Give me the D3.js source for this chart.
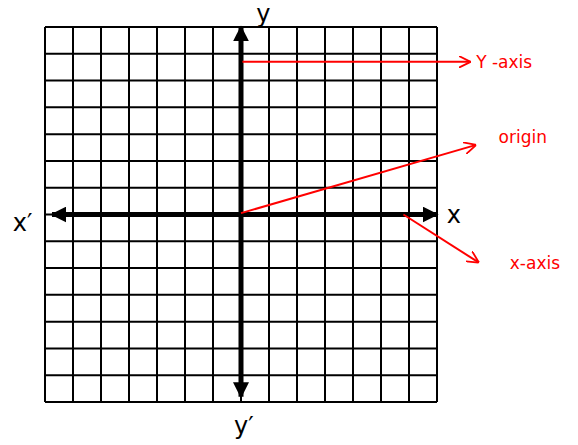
<!DOCTYPE html>
<html>
<body style="margin:0;background:#fff;">
<svg id="plane" width="578" height="445" font-family="DejaVu Sans, sans-serif"></svg>
<script src="https://d3js.org/d3.v7.min.js"></script>
<script>
// grid units, from -7 to 7 on both axes
var gridTicks = d3.range(-7, 8);
var axisLabels = [
  {text: "y", gx: 0.8, gy: 7.5},
  {text: "y\u2032", gx: 0.1, gy: -7.9},
  {text: "x\u2032", gx: -7.8, gy: -0.3},
  {text: "x", gx: 7.6, gy: 0}
];
// red callouts: from point (grid) to point (grid), label
var callouts = [
  {from: [0.05, 5.7], to: [8.2, 5.7], label: "Y -axis", lx: 8.4, ly: 5.7},
  {from: [0, 0.05], to: [8.4, 2.6], label: "origin", lx: 9.2, ly: 2.9},
  {from: [5.8, 0], to: [8.5, -1.8], label: "x-axis", lx: 9.6, ly: -1.8}
];

var svg = d3.select("#plane");
var x = d3.scaleLinear().domain([-7, 7]).range([45, 437]);
var y = d3.scaleLinear().domain([7, -7]).range([27, 402]);

svg.append("defs").append("marker")
    .attr("id", "blackHead").attr("viewBox", "0 0 10 10")
    .attr("refX", 9).attr("refY", 5)
    .attr("markerWidth", 3.2).attr("markerHeight", 3.2)
    .attr("markerUnits", "strokeWidth").attr("orient", "auto-start-reverse")
  .append("path").attr("d", "M0,0L10,5L0,10Z").attr("fill", "#000");
svg.select("defs").append("marker")
    .attr("id", "redHead").attr("viewBox", "0 0 10 10")
    .attr("refX", 10).attr("refY", 5)
    .attr("markerWidth", 6).attr("markerHeight", 6)
    .attr("markerUnits", "strokeWidth").attr("orient", "auto")
  .append("path").attr("d", "M0,0L10,5L0,10").attr("fill", "none")
    .attr("stroke", "red").attr("stroke-width", 1.5);

var grid = svg.append("g").attr("stroke", "#000").attr("stroke-width", 2);
grid.selectAll(".v").data(gridTicks).enter().append("line")
    .attr("x1", d => x(d)).attr("x2", d => x(d))
    .attr("y1", y(7)).attr("y2", y(-7));
grid.selectAll(".h").data(gridTicks).enter().append("line")
    .attr("y1", d => y(d)).attr("y2", d => y(d))
    .attr("x1", x(-7)).attr("x2", x(7));

// main axes with arrows
svg.append("line")
    .attr("x1", x(-6.75)).attr("x2", x(7)).attr("y1", y(0)).attr("y2", y(0))
    .attr("stroke", "#000").attr("stroke-width", 5)
    .attr("marker-start", "url(#blackHead)").attr("marker-end", "url(#blackHead)");
svg.append("line")
    .attr("x1", x(0)).attr("x2", x(0)).attr("y1", y(7)).attr("y2", y(-6.8))
    .attr("stroke", "#000").attr("stroke-width", 5)
    .attr("marker-start", "url(#blackHead)").attr("marker-end", "url(#blackHead)");

svg.selectAll(".axlab").data(axisLabels).enter().append("text")
    .attr("x", d => x(d.gx)).attr("y", d => y(d.gy))
    .attr("text-anchor", "middle").attr("dominant-baseline", "central")
    .attr("font-size", 24).attr("fill", "#000").text(d => d.text);

var c = svg.selectAll(".callout").data(callouts).enter().append("g");
c.append("line")
    .attr("x1", d => x(d.from[0])).attr("y1", d => y(d.from[1]))
    .attr("x2", d => x(d.to[0])).attr("y2", d => y(d.to[1]))
    .attr("stroke", "red").attr("stroke-width", 2)
    .attr("marker-end", "url(#redHead)");
c.append("text")
    .attr("x", d => x(d.lx)).attr("y", d => y(d.ly))
    .attr("dominant-baseline", "central")
    .attr("font-size", 17).attr("fill", "red").text(d => d.label);
</script>
</body>
</html>
